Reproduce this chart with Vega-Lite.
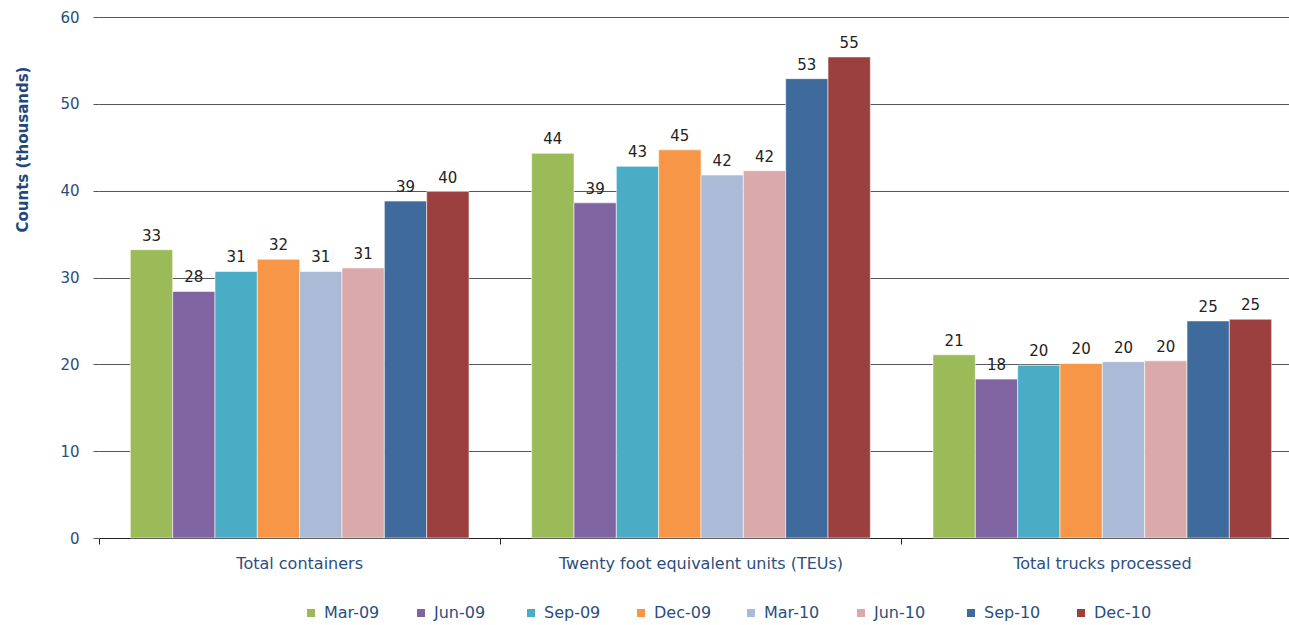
{
  "$schema": "https://vega.github.io/schema/vega-lite/v6.json",
  "autosize": {"type": "none"},
  "width": 1190,
  "height": 521,
  "padding": {"left": 99, "top": 17, "right": 0, "bottom": 87},
  "background": "#ffffff",
  "config": {
    "font": "DejaVu Sans",
    "view": {"stroke": null},
    "axis": {"labelFont": "DejaVu Sans", "titleFont": "DejaVu Sans"}
  },
  "data": {
    "values": [
      {"category": "Total containers", "period": "Mar-09", "value": 33.2},
      {"category": "Total containers", "period": "Jun-09", "value": 28.4},
      {"category": "Total containers", "period": "Sep-09", "value": 30.7},
      {"category": "Total containers", "period": "Dec-09", "value": 32.1},
      {"category": "Total containers", "period": "Mar-10", "value": 30.7},
      {"category": "Total containers", "period": "Jun-10", "value": 31.1},
      {"category": "Total containers", "period": "Sep-10", "value": 38.8},
      {"category": "Total containers", "period": "Dec-10", "value": 39.9},
      {"category": "Twenty foot equivalent units (TEUs)", "period": "Mar-09", "value": 44.3},
      {"category": "Twenty foot equivalent units (TEUs)", "period": "Jun-09", "value": 38.6},
      {"category": "Twenty foot equivalent units (TEUs)", "period": "Sep-09", "value": 42.8},
      {"category": "Twenty foot equivalent units (TEUs)", "period": "Dec-09", "value": 44.7},
      {"category": "Twenty foot equivalent units (TEUs)", "period": "Mar-10", "value": 41.8},
      {"category": "Twenty foot equivalent units (TEUs)", "period": "Jun-10", "value": 42.3},
      {"category": "Twenty foot equivalent units (TEUs)", "period": "Sep-10", "value": 52.9},
      {"category": "Twenty foot equivalent units (TEUs)", "period": "Dec-10", "value": 55.4},
      {"category": "Total trucks processed", "period": "Mar-09", "value": 21.1},
      {"category": "Total trucks processed", "period": "Jun-09", "value": 18.3},
      {"category": "Total trucks processed", "period": "Sep-09", "value": 19.9},
      {"category": "Total trucks processed", "period": "Dec-09", "value": 20.1},
      {"category": "Total trucks processed", "period": "Mar-10", "value": 20.3},
      {"category": "Total trucks processed", "period": "Jun-10", "value": 20.4},
      {"category": "Total trucks processed", "period": "Sep-10", "value": 25.0},
      {"category": "Total trucks processed", "period": "Dec-10", "value": 25.2}
    ]
  },
  "encoding": {
    "x": {
      "field": "category",
      "type": "nominal",
      "sort": null,
      "scale": {"range": [0, 1204], "paddingInner": 0, "paddingOuter": 0},
      "axis": {
        "title": null,
        "labelAngle": 0,
        "labelFontSize": 16,
        "labelLimit": 0,
        "labelColor": "#2B4E7E",
        "labelPadding": 11,
        "bandPosition": 0,
        "tickSize": 6,
        "tickColor": "#222222",
        "domainColor": "#222222",
        "grid": false
      }
    },
    "xOffset": {
      "field": "period",
      "type": "nominal",
      "sort": ["Mar-09", "Jun-09", "Sep-09", "Dec-09", "Mar-10", "Jun-10", "Sep-10", "Dec-10"],
      "scale": {"paddingInner": 0, "paddingOuter": 0.74}
    },
    "y": {
      "field": "value",
      "type": "quantitative",
      "scale": {"domain": [0, 60], "nice": false},
      "axis": {
        "title": "Counts (thousands)",
        "titleFontSize": 15,
        "titleFontWeight": "bold",
        "titleColor": "#1F497D",
        "titleAnchor": "middle",
        "titleAngle": -90,
        "titleBaseline": "bottom",
        "titleX": -69,
        "titleY": 132,
        "values": [0, 10, 20, 30, 40, 50, 60],
        "labelFontSize": 15,
        "labelColor": "#2B4E7E",
        "labelPadding": 14,
        "tickSize": 6,
        "tickColor": "#555555",
        "domain": false,
        "grid": true,
        "gridColor": "#555555",
        "gridWidth": 1
      }
    }
  },
  "layer": [
    {
      "mark": {"type": "bar", "stroke": "#ffffff", "strokeWidth": 0.8, "strokeOpacity": 0.7},
      "encoding": {
        "color": {
          "field": "period",
          "type": "nominal",
          "scale": {
            "domain": ["Mar-09", "Jun-09", "Sep-09", "Dec-09", "Mar-10", "Jun-10", "Sep-10", "Dec-10"],
            "range": ["#9BBB59", "#8064A2", "#4BACC6", "#F79646", "#AABAD7", "#D9AAA9", "#3F6A9C", "#9C3F3F"]
          },
          "legend": {
            "title": null,
            "orient": "none",
            "direction": "horizontal",
            "legendX": 204,
            "legendY": 588,
            "columns": 8,
            "gridAlign": "all",
            "symbolType": "square",
            "symbolSize": 64,
            "symbolStrokeWidth": 0,
            "labelFontSize": 16,
            "labelColor": "#2B4E7E",
            "labelOffset": 5,
            "columnPadding": 31
          }
        }
      }
    },
    {
      "mark": {"type": "text", "baseline": "bottom", "dy": -6, "fontSize": 15, "color": "#222222"},
      "encoding": {
        "text": {"field": "value", "type": "quantitative", "format": ".0f"}
      }
    }
  ]
}
